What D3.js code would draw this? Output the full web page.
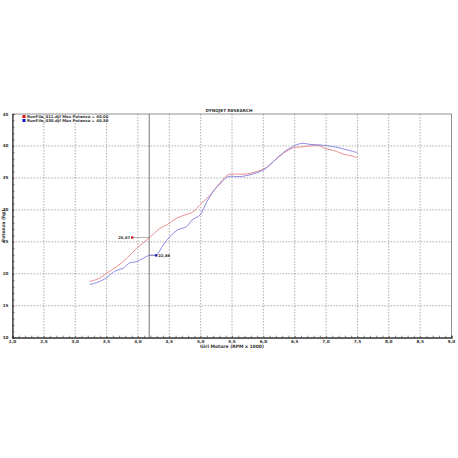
<html>
<script src='https://d3js.org/d3.v7.min.js'></script>
<style>
body { margin: 0; background: white; }
text { font-family: 'DejaVu Sans', sans-serif; font-weight: bold; fill: #333; }
</style>
<body>
<svg width=458 height=458></svg>
<script>
// run 011 (red) and run 030 (blue), rpm x 1000 vs hp
const redRpm = [3.23, 3.39, 3.50, 3.66, 3.82, 3.98, 4.18, 4.35, 4.46, 4.62, 4.75, 4.88, 4.99, 5.15, 5.31, 5.44, 5.57, 5.73, 5.89, 6.03, 6.16, 6.32, 6.48, 6.61, 6.80, 6.90, 6.98, 7.12, 7.28, 7.38, 7.50];
const redHp  = [18.8, 19.3, 20.1, 21.1, 22.4, 24.0, 25.6, 27.1, 27.65, 28.7, 29.2, 29.7, 30.8, 32.3, 34.2, 35.5, 35.6, 35.6, 36.0, 36.5, 37.55, 38.85, 39.7, 39.85, 40.05, 40.05, 39.6, 39.3, 38.7, 38.5, 38.2];
const blueRpm = [3.23, 3.39, 3.50, 3.63, 3.77, 3.87, 3.98, 4.09, 4.18, 4.30, 4.40, 4.51, 4.64, 4.78, 4.86, 4.99, 5.10, 5.20, 5.34, 5.44, 5.63, 5.79, 6.00, 6.16, 6.32, 6.48, 6.61, 6.74, 6.90, 7.12, 7.33, 7.50];
const blueHp  = [18.3, 18.8, 19.4, 20.4, 20.9, 21.7, 21.9, 22.45, 22.9, 23.0, 24.5, 25.8, 26.9, 27.4, 28.4, 29.2, 31.3, 32.9, 34.4, 35.2, 35.2, 35.5, 36.25, 37.55, 39.0, 39.95, 40.4, 40.25, 40.15, 39.9, 39.4, 38.95];

const legendLabels = ["RunFile_011.djf Max Potenza = 40,04", "RunFile_030.djf Max Potenza = 40,50"];
const xTicks = [2.0, 2.5, 3.0, 3.5, 4.0, 4.5, 5.0, 5.5, 6.0, 6.5, 7.0, 7.5, 8.0, 8.5, 9.0];
const yTicks = [10, 15, 20, 25, 30, 35, 40, 45];
const cursorRpm = 4.18;
const cursorHp = [25.67, 22.88];
const cursorLabels = ["25,67", "22,88"];

const svg = d3.select("svg");
const x = d3.scaleLinear().domain([2, 9]).range([12.5, 451.5]);
const y = d3.scaleLinear().domain([10, 45]).range([337.7, 114]);
const fmt = d3.format(".1f");

// grid
svg.append("g").selectAll("line")
    .data(xTicks.slice(1, -1))
    .join("line")
    .attr("x1", d => x(d)).attr("x2", d => x(d))
    .attr("y1", y(45)).attr("y2", y(10))
    .attr("stroke", "#8a8a8a").attr("stroke-width", 0.7)
    .attr("stroke-dasharray", "1.5,1.5");
svg.append("g").selectAll("line")
    .data(yTicks.slice(1, -1))
    .join("line")
    .attr("x1", x(2)).attr("x2", x(9))
    .attr("y1", d => y(d)).attr("y2", d => y(d))
    .attr("stroke", "#8a8a8a").attr("stroke-width", 0.7)
    .attr("stroke-dasharray", "1.5,1.5");

// frame
svg.append("rect")
    .attr("x", x(2)).attr("y", y(45))
    .attr("width", x(9) - x(2)).attr("height", y(10) - y(45))
    .attr("fill", "none").attr("stroke", "#777").attr("stroke-width", 0.8);

// axes with minor ticks
const xAxis = svg.append("g")
    .attr("transform", "translate(0," + y(10) + ")")
    .call(d3.axisBottom(x).tickValues(d3.range(20, 91).map(d => d / 10)).tickSize(-2).tickFormat(""));
const yAxis = svg.append("g")
    .attr("transform", "translate(" + x(2) + ",0)")
    .call(d3.axisLeft(y).tickValues(d3.range(10, 46)).tickSize(-2).tickFormat(""));
[xAxis, yAxis].forEach(a => {
    a.selectAll("path").attr("stroke", "#333").attr("stroke-width", 1.2);
    a.selectAll("line").attr("stroke", "#333").attr("stroke-width", 0.6);
});

svg.append("g").selectAll("text")
    .data(xTicks)
    .join("text")
    .attr("x", d => x(d)).attr("y", y(10) + 5.5)
    .attr("text-anchor", "middle")
    .style("font-size", "4.2px")
    .text(d => fmt(d).replace(".", ","));
svg.append("g").selectAll("text")
    .data(yTicks)
    .join("text")
    .attr("x", x(2) - 4).attr("y", d => y(d) + 1.5)
    .attr("text-anchor", "end")
    .style("font-size", "4.2px")
    .text(d => d);

svg.append("text")
    .attr("x", (x(2) + x(9)) / 2).attr("y", 348)
    .attr("text-anchor", "middle")
    .style("font-size", "4.5px")
    .text("Giri Motore (RPM x 1000)");
svg.append("text")
    .attr("transform", "translate(4.5," + y(27.5) + ") rotate(-90)")
    .attr("text-anchor", "middle")
    .style("font-size", "4.5px")
    .text("Potenza (hp)");
svg.append("text")
    .attr("x", 229).attr("y", 111.5)
    .attr("text-anchor", "middle")
    .style("font-size", "4.2px")
    .text("DYNOJET RESEARCH");

// cursor line
svg.append("line")
    .attr("x1", x(cursorRpm)).attr("x2", x(cursorRpm))
    .attr("y1", y(45)).attr("y2", y(10))
    .attr("stroke", "#555").attr("stroke-width", 0.8);

// curves
const line = d3.line().x(d => x(d[0])).y(d => y(d[1])).curve(d3.curveCatmullRom);
svg.append("path")
    .datum(redRpm.map((r, i) => [r, redHp[i]]))
    .attr("d", line)
    .attr("fill", "none").attr("stroke", "#e67a7a").attr("stroke-width", 0.85);
svg.append("path")
    .datum(blueRpm.map((r, i) => [r, blueHp[i]]))
    .attr("d", line)
    .attr("fill", "none").attr("stroke", "#7676e4").attr("stroke-width", 0.85);

// cursor markers
const markColors = ["#cc2222", "#2222aa"];
const markDx = [-17, 7];
cursorHp.forEach((v, i) => {
    const cx = x(cursorRpm), cy = y(v), mx = cx + markDx[i];
    svg.append("line")
        .attr("x1", cx).attr("x2", mx).attr("y1", cy).attr("y2", cy)
        .attr("stroke", "#666").attr("stroke-width", 0.5);
    svg.append("rect")
        .attr("x", mx - 1.2).attr("y", cy - 1.2).attr("width", 2.4).attr("height", 2.4)
        .attr("fill", markColors[i]);
    svg.append("text")
        .attr("x", i === 0 ? mx - 2 : mx + 2).attr("y", cy + 1.4)
        .attr("text-anchor", i === 0 ? "end" : "start")
        .style("font-size", "3.8px")
        .text(cursorLabels[i]);
});

// legend
const legendColors = ["#dd1111", "#1111cc"];
legendLabels.forEach((t, i) => {
    svg.append("rect")
        .attr("x", 22.5).attr("y", 115 + i * 4).attr("width", 3).attr("height", 3)
        .attr("fill", legendColors[i]);
    svg.append("text")
        .attr("x", 27).attr("y", 117.8 + i * 4)
        .style("font-size", "3.9px")
        .text(t);
});
</script>
</body>
</html>
